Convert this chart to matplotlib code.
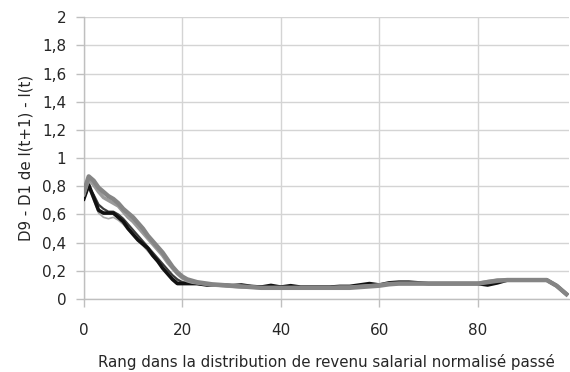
import matplotlib
matplotlib.use("Agg")
import matplotlib.pyplot as plt
from matplotlib.ticker import FuncFormatter

plt.rcParams['font.family'] = ['DejaVu Sans']

rang = [0, 1, 2, 3, 4, 5, 6, 7, 8, 9, 10, 11, 12, 13, 14, 15, 16, 17, 18, 19, 20, 21,
        22, 23, 24, 25, 26, 28, 30, 32, 34, 36, 38, 40, 42, 44, 46, 48, 50, 52, 54, 56,
        58, 60, 62, 64, 66, 68, 70, 72, 74, 76, 78, 80, 82, 84, 86, 88, 90, 92, 94, 96, 98]

noir_1 = [0.71, 0.81, 0.72, 0.63, 0.61, 0.61, 0.61, 0.58, 0.55, 0.50, 0.46, 0.42, 0.39, 0.36,
          0.31, 0.27, 0.22, 0.18, 0.14, 0.11, 0.11, 0.11,
          0.11, 0.11, 0.105, 0.10, 0.10, 0.10, 0.095, 0.10, 0.09, 0.085, 0.097, 0.085, 0.095,
          0.085, 0.085, 0.085, 0.085, 0.09, 0.09, 0.10, 0.11, 0.10, 0.115, 0.12, 0.12, 0.115,
          0.11, 0.11, 0.11, 0.11, 0.11, 0.11, 0.10, 0.115, 0.135, 0.135, 0.135, 0.135, 0.135,
          0.095, 0.035]

noir_2 = [0.73, 0.80, 0.74, 0.67, 0.64, 0.62, 0.62, 0.60, 0.57, 0.53, 0.49, 0.45, 0.41, 0.37,
          0.33, 0.29, 0.25, 0.21, 0.17, 0.14, 0.12, 0.115,
          0.11, 0.11, 0.11, 0.105, 0.10, 0.10, 0.10, 0.095, 0.09, 0.09, 0.085, 0.09, 0.085,
          0.085, 0.085, 0.085, 0.085, 0.088, 0.09, 0.095, 0.10, 0.10, 0.105, 0.11, 0.115, 0.115,
          0.11, 0.11, 0.11, 0.11, 0.11, 0.11, 0.105, 0.12, 0.135, 0.135, 0.135, 0.135, 0.135,
          0.095, 0.035]

gris_fonce = [0.76, 0.87, 0.84, 0.79, 0.76, 0.73, 0.71, 0.68, 0.64, 0.61, 0.58, 0.54, 0.50,
              0.45, 0.41, 0.37, 0.33, 0.28, 0.23, 0.19, 0.16, 0.14,
              0.13, 0.12, 0.115, 0.11, 0.105, 0.10, 0.095, 0.09, 0.085, 0.08, 0.08, 0.08, 0.08,
              0.08, 0.08, 0.08, 0.08, 0.08, 0.08, 0.085, 0.09, 0.095, 0.105, 0.11, 0.11, 0.11,
              0.11, 0.11, 0.11, 0.11, 0.11, 0.11, 0.12, 0.13, 0.135, 0.135, 0.135, 0.135, 0.135,
              0.095, 0.035]

gris_moyen = [0.74, 0.85, 0.81, 0.76, 0.72, 0.70, 0.68, 0.66, 0.62, 0.58, 0.55, 0.51, 0.47,
              0.43, 0.39, 0.35, 0.31, 0.26, 0.22, 0.18, 0.15, 0.13,
              0.12, 0.115, 0.11, 0.105, 0.10, 0.095, 0.09, 0.085, 0.085, 0.08, 0.08, 0.08, 0.08,
              0.08, 0.08, 0.08, 0.08, 0.085, 0.085, 0.09, 0.095, 0.10, 0.11, 0.11, 0.11, 0.11,
              0.11, 0.11, 0.11, 0.11, 0.11, 0.11, 0.125, 0.135, 0.135, 0.135, 0.135, 0.135, 0.135,
              0.095, 0.035]

gris_clair = [0.70, 0.79, 0.70, 0.61, 0.58, 0.57, 0.58, 0.56, 0.53, 0.49, 0.45, 0.41, 0.38,
              0.34, 0.30, 0.26, 0.22, 0.18, 0.15, 0.13, 0.12, 0.115,
              0.11, 0.105, 0.10, 0.10, 0.10, 0.095, 0.09, 0.09, 0.085, 0.085, 0.085, 0.085,
              0.085, 0.085, 0.085, 0.085, 0.085, 0.085, 0.09, 0.095, 0.10, 0.10, 0.11, 0.11,
              0.11, 0.11, 0.11, 0.11, 0.11, 0.11, 0.11, 0.11, 0.115, 0.13, 0.135, 0.135, 0.135,
              0.135, 0.135, 0.095, 0.035]

y_ticks = [0, 0.2, 0.4, 0.6, 0.8, 1.0, 1.2, 1.4, 1.6, 1.8, 2.0]
x_ticks = [0, 20, 40, 60, 80]

fig = plt.figure(figsize=(5.70, 3.72), dpi=100)
ax = fig.add_axes([0.147, 0.196, 0.851, 0.758])

ax.plot(rang, gris_clair, color='#a8a8a8', lw=1.2, zorder=3)
ax.plot(rang, noir_2, color='#3a3a3a', lw=1.6, zorder=3)
ax.plot(rang, noir_1, color='#111111', lw=2.6, zorder=3)
ax.plot(rang, gris_moyen, color='#9a9a9a', lw=2.5, zorder=4)
ax.plot(rang, gris_fonce, color='#858585', lw=3.2, zorder=4)

ax.set_xlim(0, 98.5)
ax.set_ylim(0, 2)
ax.set_xticks(x_ticks)
ax.set_yticks(y_ticks)

def fmt(v, pos):
    s = ('%.1f' % v).rstrip('0').rstrip('.')
    return s.replace('.', ',')

ax.yaxis.set_major_formatter(FuncFormatter(fmt))
ax.xaxis.set_major_formatter(FuncFormatter(lambda v, p: '%d' % v))

ax.grid(True, color='#d4d4d4', lw=1.0, zorder=0)
ax.set_axisbelow(True)
for s in ['top', 'right']:
    ax.spines[s].set_visible(False)
for s in ['left', 'bottom']:
    ax.spines[s].set_color('#bfbfbf')
    ax.spines[s].set_linewidth(1.0)

ax.tick_params(axis='both', colors='#bfbfbf', length=6, width=1.0,
               labelcolor='#262626', labelsize=11)
ax.tick_params(axis='y', pad=6.5)
ax.tick_params(axis='x', pad=11)

ax.set_ylabel('D9 - D1 de I(t+1) - I(t)', fontsize=10.8, color='#262626', labelpad=6)
ax.set_xlabel('Rang dans la distribution de revenu salarial normalisé passé',
              fontsize=10.8, color='#262626', labelpad=12)

fig.savefig('out.png', dpi=100)
